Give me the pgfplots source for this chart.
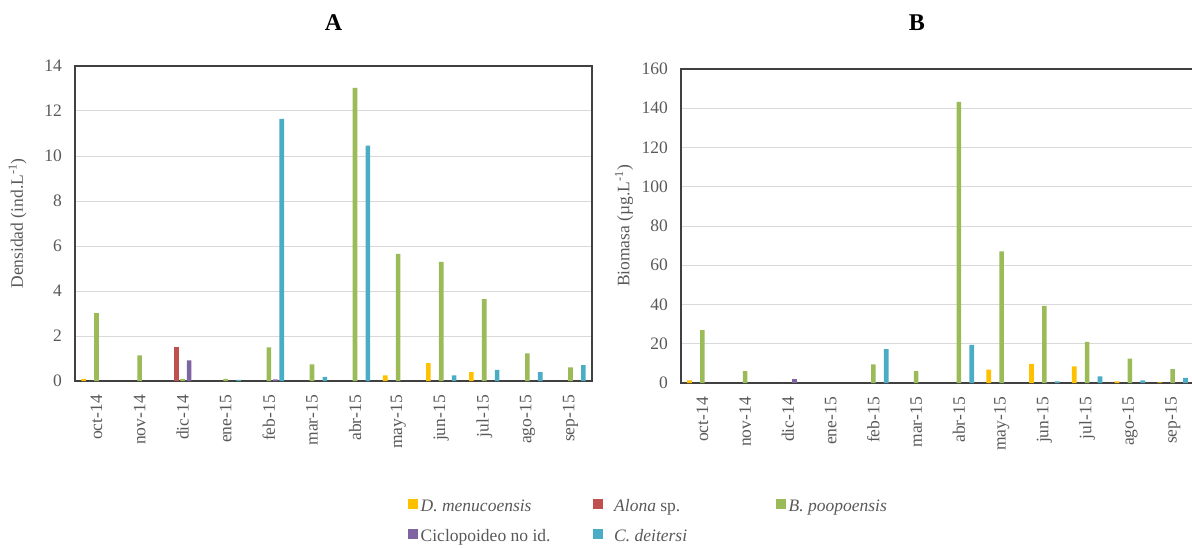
\documentclass[border=0pt]{standalone}
\usepackage{pgfplots}
\pgfplotsset{compat=1.18}
\usepackage{fontspec}
\setmainfont{Liberation Serif}
\definecolor{cY}{HTML}{FFC000}
\definecolor{cR}{HTML}{C0504D}
\definecolor{cG}{HTML}{9BBB59}
\definecolor{cP}{HTML}{8064A2}
\definecolor{cB}{HTML}{4BACC6}
\definecolor{txt}{HTML}{595959}
\definecolor{frm}{HTML}{404040}
\definecolor{grd}{HTML}{D9D9D9}
\newcommand{\fs}{\fontsize{17.5}{20}\selectfont}
\pgfplotsset{
  myax/.style={
    scale only axis, anchor=south west,
    xmin=-0.5, xmax=11.5, ymin=0,
    xtick={0,...,11},
    xticklabels={oct-14,nov-14,dic-14,ene-15,feb-15,mar-15,abr-15,may-15,jun-15,jul-15,ago-15,sep-15},
    xticklabel style={rotate=90, anchor=east, inner sep=0pt, font=\fs, text=txt},
    xticklabel shift=14pt,
    yticklabel style={inner sep=0pt, font=\fs, text=txt},
    yticklabel shift=13pt,
    /pgf/number format/assume math mode=true,
    major tick length=0pt, tick style={draw=none},
    axis line style={draw=frm, line width=1.3pt},
    ymajorgrids, grid style={grd, line width=1pt},
    ylabel style={at={(axis description cs:-0.111,0.5)}, anchor=center, font=\fs, text=txt},
    title style={font=\fontsize{24}{28}\selectfont\bfseries, anchor=center},
    ybar, bar width=4.6pt,
  },
  lg/.style={draw=none, legend image code/.code={\fill[##1,draw=none] (0pt,-2pt) rectangle (9.5pt,7.5pt);}},
}
\begin{document}
\begin{tikzpicture}
\useasboundingbox (0pt,0pt) rectangle (1192pt,547pt);
\begin{axis}[myax, at={(75pt,166pt)}, width=517pt, height=315pt,
  ymax=14, ytick={0,2,...,14},
  ylabel={Densidad (ind.L\textsuperscript{-1})},
  title={A}, title style={at={(axis description cs:0.5,1)}, yshift=37pt},
  legend columns=3,
  legend style={at={(axis description cs:0.6441,-0.362)}, anchor=north west, draw=none, fill=none, inner sep=0pt,
    font=\fontsize{17.5}{20}\selectfont, text=txt,
    nodes={inner sep=3pt, text height=13pt, text depth=4pt},
    /tikz/every even column/.append style={column sep=0pt},
    /tikz/every odd column/.append style={column sep=0pt},
    row sep=7pt},
  legend cell align=left,
]
\addplot[fill=cY, bar shift=-12.9pt, lg] coordinates {(0,0.1) (7,0.25) (8,0.8) (9,0.4)};
\addlegendentry{\makebox[169.5pt][l]{\textit{D. menucoensis}}}
\addplot[fill=cR, bar shift=-6.45pt, lg] coordinates {(2,1.5)};
\addlegendentry{\makebox[167.5pt][l]{\hspace{8.5pt}\textit{Alona} sp.}}
\addplot[fill=cG, bar shift=0pt, lg] coordinates {(0,3.02) (1,1.14) (2,0.1) (3,0.1) (4,1.49) (5,0.74) (6,13.03) (7,5.65) (8,5.29) (9,3.64) (10,1.23) (11,0.61)};
\addlegendentry{\textit{B. poopoensis}}
\addplot[fill=cP, bar shift=6.45pt, lg] coordinates {(2,0.92) (4,0.07)};
\addlegendentry{\makebox[169.5pt][l]{Ciclopoideo no id.}}
\addplot[fill=cB, bar shift=12.9pt, lg] coordinates {(3,0.05) (4,11.65) (5,0.18) (6,10.46) (8,0.25) (9,0.5) (10,0.39) (11,0.71)};
\addlegendentry{\makebox[167.5pt][l]{\hspace{8.5pt}\textit{C. deitersi}}}
\end{axis}
\begin{axis}[myax, at={(681pt,164pt)}, width=513pt, height=314pt,
  ymax=160, ytick={0,20,...,160},
  ylabel={Biomasa (µg.L\textsuperscript{-1})},
  title={B}, title style={at={(axis description cs:0.46,1)}, yshift=40pt},
]
\addplot[fill=cY, bar shift=-12.9pt, draw=none] coordinates {(0,1.4) (7,6.8) (8,9.7) (9,8.5) (10,0.85) (11,0.3)};
\addplot[fill=cR, bar shift=-6.45pt, draw=none] coordinates {(2,0)};
\addplot[fill=cG, bar shift=0pt, draw=none] coordinates {(0,26.9) (1,6.1) (4,9.5) (5,6.0) (6,143.3) (7,67.1) (8,39.3) (9,20.9) (10,12.4) (11,7.1)};
\addplot[fill=cP, bar shift=6.45pt, draw=none] coordinates {(2,1.9)};
\addplot[fill=cB, bar shift=12.9pt, draw=none] coordinates {(4,17.2) (6,19.4) (8,0.85) (9,3.4) (10,1.4) (11,2.55)};
\end{axis}
\end{tikzpicture}
\end{document}
